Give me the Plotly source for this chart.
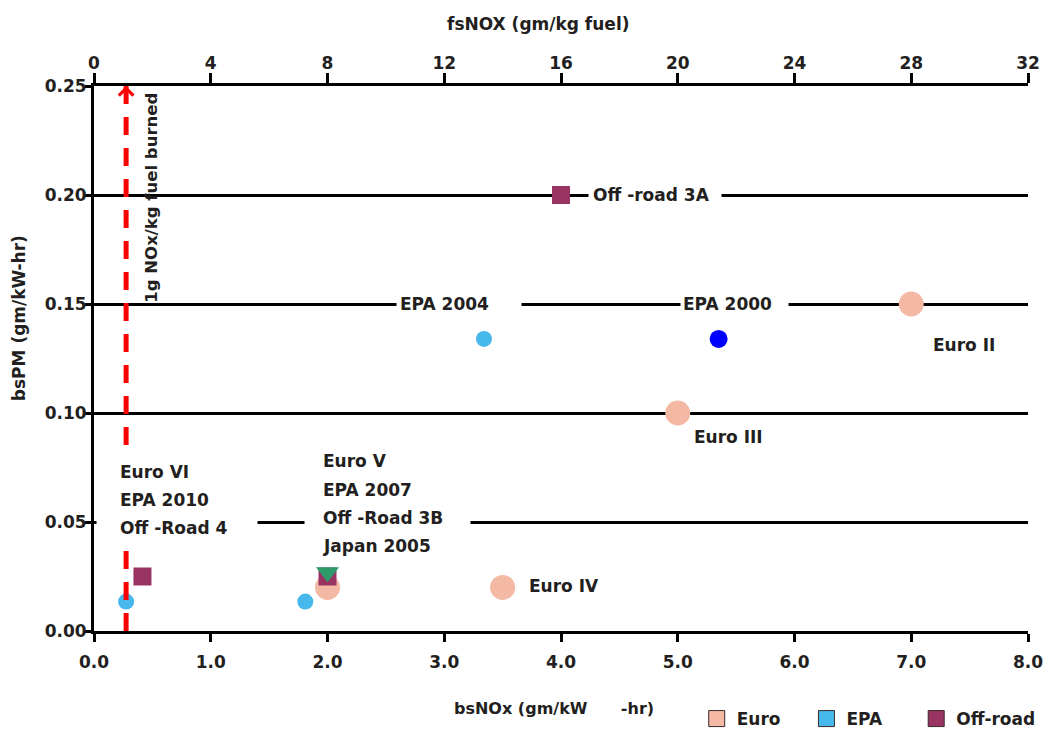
import plotly.graph_objects as go

# ---------------- data ----------------
euro_names = ["Euro II", "Euro III", "Euro IV", "Euro V"]
euro_x = [7.0, 5.0, 3.5, 2.0]
euro_y = [0.150, 0.100, 0.020, 0.020]

epa_names = ["EPA 2004", "EPA 2007", "EPA 2010"]
epa_x = [3.34, 1.81, 0.275]
epa_y = [0.134, 0.0135, 0.0135]

epa2000_names = ["EPA 2000"]
epa2000_x = [5.35]
epa2000_y = [0.134]

offroad_names = ["Off-road 3A", "Off-road 3B", "Off-road 4"]
offroad_x = [4.0, 2.0, 0.415]
offroad_y = [0.200, 0.025, 0.025]

japan_names = ["Japan 2005"]
japan_x = [2.0]
japan_y = [0.027]

guide_fs = [1.1, 1.1]          # fsNOX of the "1g NOx/kg fuel" guide line
guide_y = [0.0, 0.25]

x_ticks = [0, 1, 2, 3, 4, 5, 6, 7, 8]
x2_ticks = [0, 4, 8, 12, 16, 20, 24, 28, 32]
y_ticks = [0.00, 0.05, 0.10, 0.15, 0.20, 0.25]

legend_names = ["Euro", "EPA", "Off-road"]

# ---------------- styles ----------------
C_EURO = "#F4B9A4"
C_EPA = "#46B8EC"
C_EPA2000 = "#0000FF"
C_OFF = "#993362"
C_JAP = "#2F9A69"
TXT = "#231F20"
FONT = "DejaVu Sans"

fig = go.Figure()

fig.add_trace(go.Scatter(x=guide_fs, y=guide_y, xaxis="x2", yaxis="y", mode="lines",
                         line=dict(color="#FF0000", width=5, dash="18px,13px"),
                         showlegend=False, hoverinfo="skip"))
fig.add_trace(go.Scatter(x=euro_x, y=euro_y, text=euro_names, mode="markers",
                         marker=dict(color=C_EURO, size=25, line=dict(width=0)),
                         showlegend=False))
fig.add_trace(go.Scatter(x=epa_x, y=epa_y, text=epa_names, mode="markers",
                         marker=dict(color=C_EPA, size=16, line=dict(width=0)),
                         showlegend=False))
fig.add_trace(go.Scatter(x=epa2000_x, y=epa2000_y, text=epa2000_names, mode="markers",
                         marker=dict(color=C_EPA2000, size=18, line=dict(width=0)),
                         showlegend=False))
fig.add_trace(go.Scatter(x=offroad_x, y=offroad_y, text=offroad_names, mode="markers",
                         marker=dict(color=C_OFF, size=18, symbol="square", line=dict(width=0)),
                         showlegend=False))
fig.add_trace(go.Scatter(x=japan_x, y=japan_y, text=japan_names, mode="markers",
                         marker=dict(color=C_JAP, size=20, symbol="triangle-down", line=dict(width=0)),
                         showlegend=False))

# legend-only entries, one legend box each
legend_ids = ["legend", "legend2", "legend3"]
for name, col, lid in zip(legend_names, [C_EURO, C_EPA, C_OFF], legend_ids):
    fig.add_trace(go.Scatter(x=[None], y=[None], mode="markers", name=name, legend=lid,
                             marker=dict(color=col, size=18, symbol="square",
                                         line=dict(width=1, color="#3B2B2B"))))

# white gaps behind labels (cut the grid lines)
gaps = [  # x centre, y centre, width px, height px
    (4.803, 0.200, 132, 20),
    (3.128, 0.150, 124, 20),
    (5.483, 0.150, 107, 20),
    (0.709, 0.0611, 160, 99),
    (2.517, 0.0581, 165, 112),
]
ann = []
for gx, gy, gw, gh in gaps:
    ann.append(dict(x=gx, y=gy, xref="x", yref="y", text=" ", showarrow=False,
                    width=gw, height=gh, bgcolor="white", borderpad=0,
                    xanchor="center", yanchor="middle"))

labels = [  # text, left x, centre y
    ("Off -road 3A", 4.256, 0.200),
    ("EPA 2004", 2.607, 0.150),
    ("EPA 2000", 5.026, 0.150),
    ("Euro II", 7.171, 0.1314),
    ("Euro III", 5.12, 0.0888),
    ("Euro IV", 3.709, 0.0206),
    ("Euro VI", 0.205, 0.0730),
    ("EPA 2010", 0.205, 0.0600),
    ("Off -Road 4", 0.205, 0.0472),
    ("Euro V", 1.94, 0.0781),
    ("EPA 2007", 1.94, 0.0646),
    ("Off -Road 3B", 1.94, 0.0517),
    ("Japan 2005", 1.94, 0.0391),
]
for t, lx, ly in labels:
    ann.append(dict(x=lx, y=ly, xref="x", yref="y", text=t, showarrow=False,
                    xanchor="left", yanchor="middle",
                    font=dict(family=FONT, size=17, color=TXT, weight="bold")))

# vertical guide label
ann.append(dict(x=0.496, y=0.1987, xref="x", yref="y", text="1g NOx/kg fuel burned",
                textangle=-90, showarrow=False, xanchor="center", yanchor="middle",
                font=dict(family=FONT, size=16.5, color=TXT, weight="bold")))
# arrow head of the guide
ann.append(dict(x=guide_fs[1], y=guide_y[1], xref="x2", yref="y", ax=0, ay=16,
                text="", showarrow=True, arrowhead=4, arrowsize=1.4, arrowwidth=2,
                arrowcolor="#FF0000", standoff=0))

# axis titles
ann.append(dict(x=0.4925, y=-0.1431, xref="paper", yref="paper",
                text="bsNOx (gm/kW\u00a0\u00a0\u00a0\u00a0\u00a0\u00a0-hr)", showarrow=False,
                xanchor="center", yanchor="middle",
                font=dict(family=FONT, size=16, color=TXT, weight="bold")))
ann.append(dict(x=0.4754, y=1.1138, xref="paper", yref="paper",
                text="fsNOX (gm/kg fuel)", showarrow=False,
                xanchor="center", yanchor="middle",
                font=dict(family=FONT, size=17, color=TXT, weight="bold")))
ann.append(dict(x=-0.0801, y=0.5743, xref="paper", yref="paper",
                text="bsPM (gm/kW-hr)", showarrow=False, textangle=-90,
                xanchor="center", yanchor="middle",
                font=dict(family=FONT, size=17, color=TXT, weight="bold")))

tickfont = dict(family=FONT, size=17, color=TXT, weight="bold")
legfont = dict(family=FONT, size=17, color=TXT, weight="bold")


def leg(xpos):
    return dict(orientation="h", x=xpos, y=-0.1615, xanchor="left", yanchor="middle",
                font=legfont, bgcolor="rgba(0,0,0,0)", itemclick=False,
                itemsizing="trace")


fig.update_layout(
    width=1044, height=745,
    margin=dict(l=86, r=22, t=78, b=122),
    paper_bgcolor="white", plot_bgcolor="white",
    xaxis=dict(range=[0, 8], tickvals=x_ticks, tickformat=".1f", showgrid=False,
               zeroline=False, showline=True, linecolor="black", linewidth=3,
               ticks="outside", ticklen=8, tickwidth=3, tickcolor="black",
               tickfont=tickfont, ticklabelstandoff=6, automargin=False),
    xaxis2=dict(range=[0, 32], tickvals=x2_ticks, overlaying="x", side="top",
                showgrid=False, zeroline=False, showline=True, linecolor="black",
                linewidth=3, ticks="outside", ticklen=10, tickwidth=3, tickcolor="black",
                tickfont=tickfont, ticklabelstandoff=-3, automargin=False),
    yaxis=dict(range=[0, 0.25], tickvals=y_ticks, tickformat=".2f", showgrid=True,
               gridcolor="black", gridwidth=3, zeroline=False, showline=True,
               linecolor="black", linewidth=3, ticks="outside", ticklen=6,
               tickwidth=3, tickcolor="black", tickfont=tickfont, ticklabelstandoff=-5,
               automargin=False),
    legend=leg(0.6453),
    legend2=leg(0.7628),
    legend3=leg(0.8803),
    annotations=ann,
    showlegend=True,
)

fig.write_html("out.html")
